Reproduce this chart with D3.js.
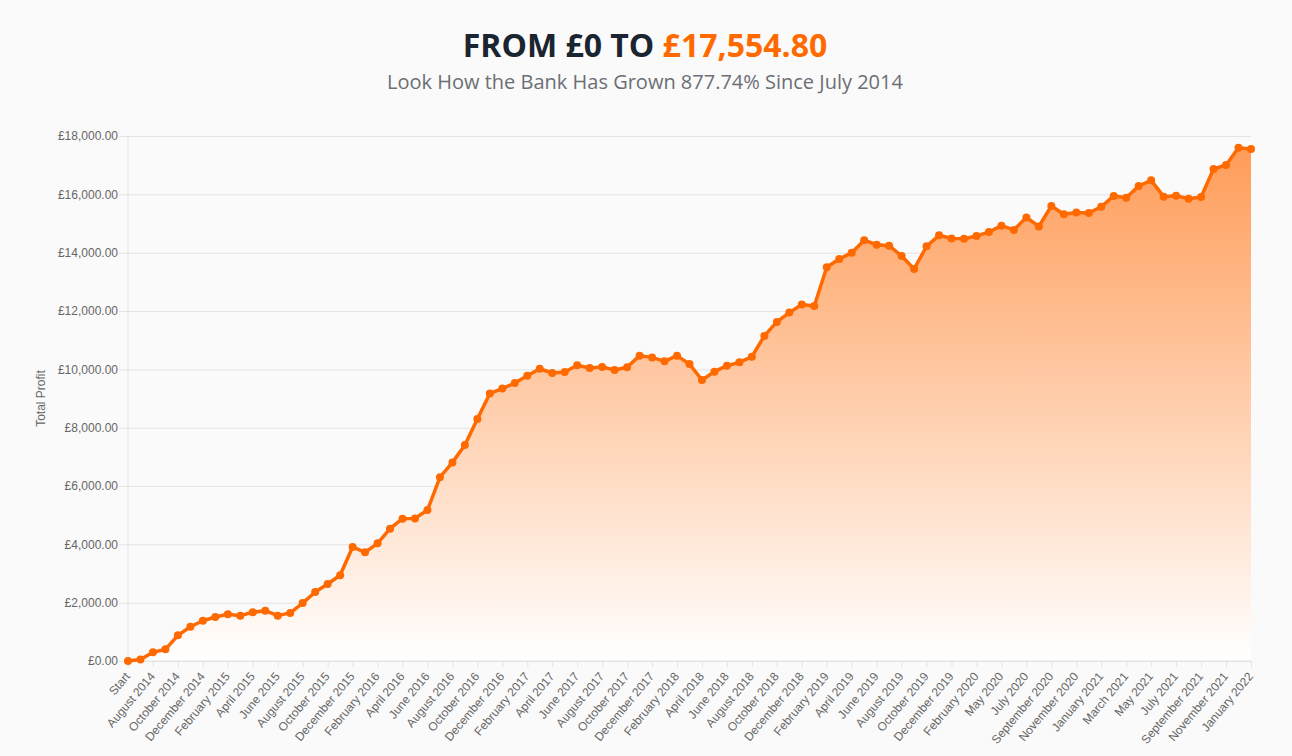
<!DOCTYPE html>
<html>
<head>
<meta charset="utf-8">
<script src="https://cdn.jsdelivr.net/npm/d3@7"></script>
<style>
  body { margin: 0; background: #fafafa; }
  svg { display: block; }
</style>
</head>
<body>
<script>
// month labels, one per data point (April 2020 is missing in the source)
var months = [
  "Start", "July 2014", "August 2014", "September 2014", "October 2014", "November 2014", "December 2014",
  "January 2015", "February 2015", "March 2015", "April 2015", "May 2015", "June 2015",
  "July 2015", "August 2015", "September 2015", "October 2015", "November 2015", "December 2015",
  "January 2016", "February 2016", "March 2016", "April 2016", "May 2016", "June 2016",
  "July 2016", "August 2016", "September 2016", "October 2016", "November 2016", "December 2016",
  "January 2017", "February 2017", "March 2017", "April 2017", "May 2017", "June 2017",
  "July 2017", "August 2017", "September 2017", "October 2017", "November 2017", "December 2017",
  "January 2018", "February 2018", "March 2018", "April 2018", "May 2018", "June 2018",
  "July 2018", "August 2018", "September 2018", "October 2018", "November 2018", "December 2018",
  "January 2019", "February 2019", "March 2019", "April 2019", "May 2019", "June 2019",
  "July 2019", "August 2019", "September 2019", "October 2019", "November 2019", "December 2019",
  "January 2020", "February 2020", "March 2020", "May 2020", "June 2020",
  "July 2020", "August 2020", "September 2020", "October 2020", "November 2020", "December 2020",
  "January 2021", "February 2021", "March 2021", "April 2021", "May 2021", "June 2021",
  "July 2021", "August 2021", "September 2021", "October 2021", "November 2021", "December 2021",
  "January 2022"
];

// running bank total
var profit = [
  0, 50, 300, 400, 880, 1175, 1380, 1510, 1600, 1555, 1670, 1725, 1555, 1650,
  1985, 2365, 2640, 2940, 3910, 3725, 4035, 4535, 4880, 4890, 5175, 6300, 6810,
  7405, 8300, 9175, 9340, 9530, 9780, 10020, 9875, 9910, 10140, 10045, 10080,
  9980, 10070, 10470, 10410, 10275, 10470, 10180, 9635, 9920, 10125, 10240,
  10435, 11145, 11625, 11945, 12220, 12170, 13500, 13780, 14000, 14425, 14275,
  14240, 13885, 13440, 14220, 14595, 14490, 14480, 14570, 14710, 14925, 14780,
  15210, 14900, 15600, 15315, 15380, 15360, 15575, 15945, 15885, 16285, 16480,
  15920, 15955, 15850, 15910, 16870, 17005, 17600, 17554.80
];

var yTicks = [0, 2000, 4000, 6000, 8000, 10000, 12000, 14000, 16000, 18000];

var width = 1292, height = 756;
var plotLeft = 128, plotRight = 1251, plotTop = 136, plotBottom = 661;
var orange = "#ff6a00";

var svg = d3.select("body").append("svg")
    .attr("width", width)
    .attr("height", height);

// title
var title = svg.append("text")
    .attr("x", 645)
    .attr("y", 57)
    .attr("text-anchor", "middle")
    .style("font-family", "'Open Sans', sans-serif")
    .style("font-weight", 700)
    .style("font-size", "32px");
title.append("tspan").attr("fill", "#1b2431").text("FROM £0 TO ");
title.append("tspan").attr("fill", orange).text("£17,554.80");

svg.append("text")
    .attr("x", 645)
    .attr("y", 89)
    .attr("text-anchor", "middle")
    .attr("fill", "#6b6e75")
    .style("font-family", "'Open Sans', sans-serif")
    .style("font-size", "20px")
    .text("Look How the Bank Has Grown 877.74% Since July 2014");

var x = d3.scalePoint()
    .domain(months)
    .range([plotLeft, plotRight]);

var y = d3.scaleLinear()
    .domain([0, 18000])
    .range([plotBottom, plotTop]);

// gradient for the area under the line
var grad = svg.append("defs").append("linearGradient")
    .attr("id", "fillGrad")
    .attr("gradientUnits", "userSpaceOnUse")
    .attr("x1", 0).attr("y1", y(18000))
    .attr("x2", 0).attr("y2", y(0));
grad.append("stop").attr("offset", "0%").attr("stop-color", "#ff9a55");
grad.append("stop").attr("offset", "100%").attr("stop-color", "#ffffff");

// y gridlines + labels
var yAxis = svg.append("g")
    .attr("transform", "translate(" + plotLeft + ",0)")
    .call(d3.axisLeft(y)
        .tickValues(yTicks)
        .tickSize(-(plotRight - plotLeft))
        .tickPadding(10)
        .tickFormat(function(d) { return "£" + d3.format(",.2f")(d); }));
yAxis.select(".domain").remove();
yAxis.selectAll(".tick line")
    .attr("x1", -9)
    .attr("stroke", "#e3e3e3");
yAxis.selectAll(".tick text")
    .attr("x", -10)
    .attr("fill", "#666")
    .style("font-family", "'Liberation Sans', Arial, sans-serif")
    .style("font-size", "12px");

// left axis line
svg.append("line")
    .attr("x1", plotLeft).attr("x2", plotLeft)
    .attr("y1", plotTop).attr("y2", plotBottom + 6)
    .attr("stroke", "#e3e3e3");

svg.append("text")
    .attr("transform", "translate(45," + ((plotTop + plotBottom) / 2) + ") rotate(-90)")
    .attr("text-anchor", "middle")
    .attr("fill", "#666")
    .style("font-family", "'Liberation Sans', Arial, sans-serif")
    .style("font-size", "12px")
    .text("Total Profit");

// area + line
var data = months.map(function(m, i) { return { m: m, v: profit[i] }; });

svg.append("path")
    .datum(data)
    .attr("fill", "url(#fillGrad)")
    .attr("d", d3.area()
        .x(function(d) { return x(d.m); })
        .y0(y(0))
        .y1(function(d) { return y(d.v); }));

// x axis, every other label
var xAxis = svg.append("g")
    .attr("transform", "translate(0," + plotBottom + ")")
    .call(d3.axisBottom(x)
        .tickValues(months.filter(function(d, i) { return i % 2 === 0; }))
        .tickSize(6)
        .tickPadding(4));
xAxis.select(".domain")
    .attr("stroke", "#e3e3e3")
    .attr("d", "M" + plotLeft + ",0H" + plotRight);
xAxis.selectAll(".tick line").attr("stroke", "#e3e3e3");
xAxis.selectAll(".tick text")
    .attr("fill", "#666")
    .attr("text-anchor", "end")
    .attr("x", 0)
    .attr("y", 0)
    .attr("dy", "0.35em")
    .attr("transform", "translate(-1,13) rotate(-50)")
    .style("font-family", "'Liberation Sans', Arial, sans-serif")
    .style("font-size", "12px");

svg.append("path")
    .datum(data)
    .attr("fill", "none")
    .attr("stroke", orange)
    .attr("stroke-width", 3.5)
    .attr("stroke-linejoin", "round")
    .attr("d", d3.line()
        .x(function(d) { return x(d.m); })
        .y(function(d) { return y(d.v); }));

svg.selectAll("circle.pt")
    .data(data)
    .enter()
    .append("circle")
    .attr("class", "pt")
    .attr("cx", function(d) { return x(d.m); })
    .attr("cy", function(d) { return y(d.v); })
    .attr("r", 4)
    .attr("fill", orange);
</script>
</body>
</html>
